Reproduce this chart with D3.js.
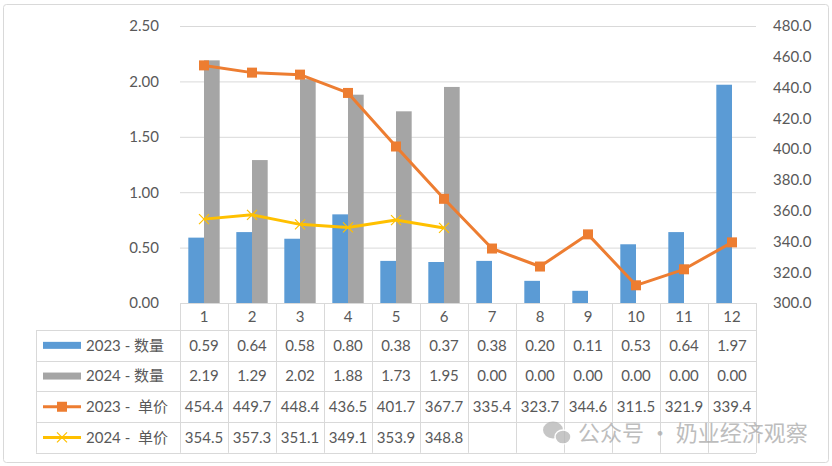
<!DOCTYPE html>
<html>
<head>
<meta charset="utf-8">
<script src="https://cdn.jsdelivr.net/npm/d3@7"></script>
<style>
  body { margin: 0; background: #fff; }
  text { font-family: Lato, "Noto Sans CJK SC", sans-serif; fill: #595959; }
</style>
</head>
<body>
<div id="chart-area"></div>
<script>
const months = ['1', '2', '3', '4', '5', '6', '7', '8', '9', '10', '11', '12'];
const qty2023 = [0.59, 0.64, 0.58, 0.80, 0.38, 0.37, 0.38, 0.20, 0.11, 0.53, 0.64, 1.97];
const qty2024 = [2.19, 1.29, 2.02, 1.88, 1.73, 1.95, 0.00, 0.00, 0.00, 0.00, 0.00, 0.00];
const price2023 = [454.4, 449.7, 448.4, 436.5, 401.7, 367.7, 335.4, 323.7, 344.6, 311.5, 321.9, 339.4];
const price2024 = [354.5, 357.3, 351.1, 349.1, 353.9, 348.8, null, null, null, null, null, null];
const leftTicks = [0, 0.5, 1.0, 1.5, 2.0, 2.5];
const rightTicks = [300, 320, 340, 360, 380, 400, 420, 440, 460, 480];
const seriesNames = ['2023 - 数量', '2024 - 数量', '2023 -  单价', '2024 -  单价'];

const W = 832, H = 466;
const plot = { left: 180, right: 756, top: 26, bottom: 303 };
const tableLeft = 36, rowH = 30.7, headH = 27;

const svg = d3.select('#chart-area')
    .append('svg')
    .attr('width', W)
    .attr('height', H);

// outer frame
svg.append('rect')
    .attr('x', 3.5).attr('y', 4.5)
    .attr('width', 825).attr('height', 458)
    .attr('rx', 3)
    .attr('fill', '#fff')
    .attr('stroke', '#d9d9d9');

const x = d3.scaleBand()
    .domain(months)
    .range([plot.left, plot.right])
    .padding(0);

const xs = d3.scaleBand()
    .domain(['a', 'b'])
    .range([0, x.bandwidth()])
    .paddingInner(0)
    .paddingOuter(0.53);

const yL = d3.scaleLinear().domain([0, 2.5]).range([plot.bottom, plot.top]);
const yR = d3.scaleLinear().domain([300, 480]).range([plot.bottom, plot.top]);

// grid
const grid = svg.append('g')
    .attr('transform', `translate(${plot.left},0)`)
    .call(d3.axisLeft(yL).tickValues(leftTicks).tickSize(-(plot.right - plot.left)).tickFormat(''));
grid.select('.domain').remove();
grid.selectAll('line').attr('stroke', '#d9d9d9');

// left axis
const axL = svg.append('g')
    .attr('transform', `translate(${plot.left},0)`)
    .call(d3.axisLeft(yL).tickValues(leftTicks).tickSize(0).tickPadding(21).tickFormat(d3.format('.2f')));
axL.select('.domain').remove();
axL.selectAll('text').style('font-size', '15px').style('font-family', 'Lato').attr('fill', '#595959');

// right axis
const axR = svg.append('g')
    .attr('transform', `translate(${plot.right},0)`)
    .call(d3.axisRight(yR).tickValues(rightTicks).tickSize(0).tickPadding(17).tickFormat(d3.format('.1f')));
axR.select('.domain').remove();
axR.selectAll('text').style('font-size', '15px').style('font-family', 'Lato').attr('fill', '#595959');

// bars
svg.selectAll('.bar23')
    .data(months)
    .enter().append('rect')
    .attr('x', (d) => x(d) + xs('a'))
    .attr('y', (d, i) => yL(qty2023[i]))
    .attr('width', xs.bandwidth())
    .attr('height', (d, i) => plot.bottom - yL(qty2023[i]))
    .attr('fill', '#5b9bd5');

svg.selectAll('.bar24')
    .data(months)
    .enter().append('rect')
    .attr('x', (d) => x(d) + xs('b'))
    .attr('y', (d, i) => yL(qty2024[i]))
    .attr('width', xs.bandwidth())
    .attr('height', (d, i) => plot.bottom - yL(qty2024[i]))
    .attr('fill', '#a5a5a5');

// lines
const cx = (d) => x(d) + x.bandwidth() / 2;

const line23 = d3.line()
    .x((d, i) => cx(months[i]))
    .y((d) => yR(d));

svg.append('path')
    .datum(price2023)
    .attr('d', line23)
    .attr('fill', 'none')
    .attr('stroke', '#ed7d31')
    .attr('stroke-width', 3)
    .attr('stroke-linejoin', 'round');

svg.selectAll('.m23')
    .data(price2023)
    .enter().append('rect')
    .attr('x', (d, i) => cx(months[i]) - 5)
    .attr('y', (d) => yR(d) - 5)
    .attr('width', 10)
    .attr('height', 10)
    .attr('fill', '#ed7d31');

const line24 = d3.line()
    .defined((d) => d !== null)
    .x((d, i) => cx(months[i]))
    .y((d) => yR(d));

svg.append('path')
    .datum(price2024)
    .attr('d', line24)
    .attr('fill', 'none')
    .attr('stroke', '#ffc000')
    .attr('stroke-width', 3)
    .attr('stroke-linejoin', 'round');

svg.selectAll('.m24')
    .data(price2024.map((v, i) => ({ v: v, m: months[i] })).filter((d) => d.v !== null))
    .enter().append('path')
    .attr('d', (d) => {
        const px = cx(d.m), py = yR(d.v), s = 5;
        return `M${px - s},${py - s}L${px + s},${py + s}M${px - s},${py + s}L${px + s},${py - s}`;
    })
    .attr('stroke', '#ffc000')
    .attr('stroke-width', 1.2)
    .attr('fill', 'none');

// data table
const tableBottom = plot.bottom + headH + rowH * 4;
const tg = svg.append('g');

// axis line / table top
tg.append('line')
    .attr('x1', plot.left).attr('x2', plot.right)
    .attr('y1', plot.bottom + 0.5).attr('y2', plot.bottom + 0.5)
    .attr('stroke', '#d9d9d9');

// horizontal rules
d3.range(5).forEach((r) => {
    const yy = Math.round(plot.bottom + headH + r * rowH) + 0.5;
    tg.append('line')
        .attr('x1', tableLeft).attr('x2', plot.right)
        .attr('y1', yy).attr('y2', yy)
        .attr('stroke', '#d9d9d9');
});

// vertical rules
tg.append('line')
    .attr('x1', tableLeft + 0.5).attr('x2', tableLeft + 0.5)
    .attr('y1', plot.bottom + headH).attr('y2', tableBottom)
    .attr('stroke', '#d9d9d9');
months.concat(['end']).forEach((m, i) => {
    const xx = Math.round(plot.left + i * x.bandwidth()) + 0.5;
    tg.append('line')
        .attr('x1', xx).attr('x2', xx)
        .attr('y1', plot.bottom).attr('y2', tableBottom)
        .attr('stroke', '#d9d9d9');
});

// header labels
tg.selectAll('.hdr')
    .data(months)
    .enter().append('text')
    .attr('x', (d) => cx(d))
    .attr('y', plot.bottom + headH / 2)
    .attr('dy', '0.35em')
    .attr('text-anchor', 'middle')
    .style('font-size', '15px')
    .text((d) => d);

const rows = [
    qty2023.map((v) => v.toFixed(2)),
    qty2024.map((v) => v.toFixed(2)),
    price2023.map((v) => v.toFixed(1)),
    price2024.map((v) => (v === null ? '' : v.toFixed(1)))
];

rows.forEach((vals, r) => {
    const rowMid = plot.bottom + headH + r * rowH + rowH / 2;
    tg.selectAll('.cell' + r)
        .data(vals)
        .enter().append('text')
        .attr('x', (d, i) => cx(months[i]))
        .attr('y', rowMid)
        .attr('dy', '0.35em')
        .attr('text-anchor', 'middle')
        .style('font-size', '15px')
        .text((d) => d);

    // legend key
    const kx = 43, kw = 38;
    if (r < 2) {
        tg.append('rect')
            .attr('x', kx).attr('y', rowMid - 3.5)
            .attr('width', kw).attr('height', 7)
            .attr('fill', r === 0 ? '#5b9bd5' : '#a5a5a5');
    } else {
        const col = r === 2 ? '#ed7d31' : '#ffc000';
        tg.append('line')
            .attr('x1', kx).attr('x2', kx + kw)
            .attr('y1', rowMid).attr('y2', rowMid)
            .attr('stroke', col).attr('stroke-width', 3);
        const mx = kx + kw / 2;
        if (r === 2) {
            tg.append('rect')
                .attr('x', mx - 5).attr('y', rowMid - 5)
                .attr('width', 10).attr('height', 10)
                .attr('fill', col);
        } else {
            tg.append('path')
                .attr('d', `M${mx - 5},${rowMid - 5}L${mx + 5},${rowMid + 5}M${mx - 5},${rowMid + 5}L${mx + 5},${rowMid - 5}`)
                .attr('stroke', col).attr('stroke-width', 1.2);
        }
    }
    tg.append('text')
        .attr('x', 86)
        .attr('y', rowMid)
        .attr('dy', '0.35em')
        .style('font-size', '15px')
        .style('white-space', 'pre')
        .attr('xml:space', 'preserve')
        .text(seriesNames[r]);
});

// watermark
const wm = svg.append('g').attr('opacity', 0.75);
wm.append('ellipse').attr('cx', 553).attr('cy', 430).attr('rx', 10).attr('ry', 8.5).attr('fill', '#b4b4b4');
wm.append('ellipse').attr('cx', 563).attr('cy', 437).attr('rx', 8).attr('ry', 7).attr('fill', '#b4b4b4')
    .attr('stroke', '#fff').attr('stroke-width', 1.5);
wm.append('text')
    .attr('x', 578)
    .attr('y', 433)
    .attr('dy', '0.35em')
    .style('font-size', '22px')
    .style('font-family', '"Noto Sans CJK SC", sans-serif')
    .attr('fill', '#a8a8a8')
    .style('fill', '#a8a8a8')
    .text('公众号 · 奶业经济观察');
</script>
</body>
</html>
